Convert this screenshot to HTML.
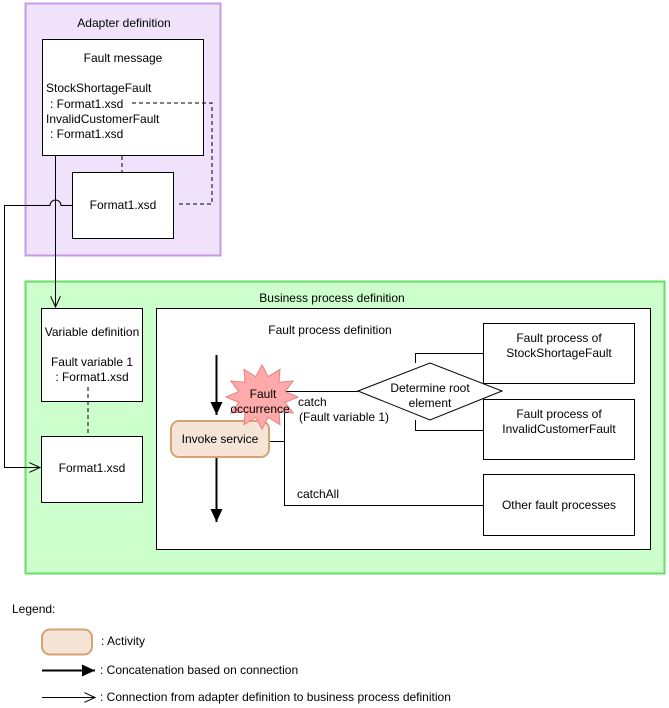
<!DOCTYPE html>
<html><head><meta charset="utf-8"><style>
body{margin:0;background:#fff;}
svg{display:block;font-family:"Liberation Sans",Arial,sans-serif;font-size:12px;}
</style></head><body>
<svg width="669" height="708" viewBox="0 0 669 708">
<defs>
<marker id="open" markerWidth="12" markerHeight="10" refX="11" refY="5" orient="auto" markerUnits="userSpaceOnUse"><path d="M0,0 L11,5 L0,10" fill="none" stroke="#000" stroke-width="1"/></marker>
<marker id="solid" markerWidth="14" markerHeight="12" refX="13" refY="6" orient="auto" markerUnits="userSpaceOnUse"><path d="M0,0 L13,6 L0,12 Z" fill="#000"/></marker>
</defs>
<!-- Adapter -->
<rect x="25.5" y="3.5" width="195" height="252" fill="#f0e2fb" stroke="#c39be6" stroke-width="2"/>
<text x="124" y="27" text-anchor="middle">Adapter definition</text>
<rect x="42.5" y="39.5" width="161" height="116" fill="#fff" stroke="#000"/>
<text x="123" y="62" text-anchor="middle">Fault message</text>
<text x="46" y="92">StockShortageFault</text>
<text x="50" y="108"> : Format1.xsd</text>
<text x="46" y="123">InvalidCustomerFault</text>
<text x="50" y="138"> : Format1.xsd</text>
<rect x="72.5" y="172.5" width="101" height="66" fill="#fff" stroke="#000"/>
<text x="123" y="209" text-anchor="middle">Format1.xsd</text>
<path d="M132,103 H212 V204 H176" fill="none" stroke="#000" stroke-dasharray="4,3"/>
<path d="M122,156 V172" fill="none" stroke="#000" stroke-dasharray="4,3"/>
<!-- Green -->
<rect x="25.5" y="281.5" width="639" height="292" fill="#ccffcc" stroke="#66dd66" stroke-width="2"/>
<text x="332" y="302" text-anchor="middle">Business process definition</text>
<rect x="41.5" y="308.5" width="101" height="93" fill="#fff" stroke="#000"/>
<text x="92" y="336" text-anchor="middle">Variable definition</text>
<text x="92" y="366" text-anchor="middle">Fault variable 1</text>
<text x="92" y="381" text-anchor="middle"> : Format1.xsd</text>
<rect x="41.5" y="436.5" width="101" height="66" fill="#fff" stroke="#000"/>
<text x="92" y="472" text-anchor="middle">Format1.xsd</text>
<path d="M88,387 V436" fill="none" stroke="#000" stroke-dasharray="4,3"/>
<!-- connectors -->
<path d="M55.5,156 V307" fill="none" stroke="#000" marker-end="url(#open)"/>
<path d="M72,205.5 H61 A5.5,5.5 0 0 0 50,205.5 H4.5 V467.5 H40" fill="none" stroke="#000" marker-end="url(#open)"/>
<!-- fault process -->
<rect x="156.5" y="308.5" width="494" height="241" fill="#fff" stroke="#000"/>
<text x="330" y="334" text-anchor="middle">Fault process definition</text>
<rect x="483.5" y="323.5" width="151" height="60" fill="#fff" stroke="#000"/>
<text x="559" y="342" text-anchor="middle">Fault process of</text>
<text x="559" y="357" text-anchor="middle">StockShortageFault</text>
<rect x="483.5" y="399.5" width="151" height="60" fill="#fff" stroke="#000"/>
<text x="559" y="418" text-anchor="middle">Fault process of</text>
<text x="559" y="433" text-anchor="middle">InvalidCustomerFault</text>
<rect x="483.5" y="474.5" width="151" height="61" fill="#fff" stroke="#000"/>
<text x="559" y="509" text-anchor="middle">Other fault processes</text>
<path d="M415.5,363 V353.5 H483 M415.5,420 V430.5 H483" fill="none" stroke="#000"/>
<polygon points="358,391 430,363 502,391 430,420" fill="#fff" stroke="#000"/>
<text x="430" y="392" text-anchor="middle">Determine root</text>
<text x="430" y="407" text-anchor="middle">element</text>
<path d="M284.5,391.5 H358 M270,441.5 H284.5 M284.5,391 V505.5 H483" fill="none" stroke="#000"/>
<text x="298" y="406">catch</text>
<text x="299" y="421">(Fault variable 1)</text>
<text x="297" y="498">catchAll</text>
<path d="M216.5,355 V415" stroke="#000" stroke-width="2" marker-end="url(#solid)"/>
<path d="M216.5,457 V522" stroke="#000" stroke-width="2" marker-end="url(#solid)"/>
<rect x="171" y="421" width="98" height="36" rx="8" fill="#f6e5d6" stroke="#d4a373" stroke-width="2"/>
<text x="220" y="443" text-anchor="middle">Invoke service</text>
<polygon points="298,397 285.2,402.4 293.2,413 279,411.8 280,424.7 268.2,417.3 262,429 255.8,417.3 244,424.7 245,411.8 230.8,413 238.8,402.4 226,397 238.8,391.6 230.8,381 245,382.2 244,369.3 255.8,376.7 262,365 268.2,376.7 280,369.3 279,382.2 293.2,381 285.2,391.6" fill="#ffaaaa" stroke="#e88080"/>
<text x="263" y="398" text-anchor="middle">Fault</text>
<text x="260" y="413" text-anchor="middle">occurrence</text>
<!-- legend -->
<text x="12" y="613">Legend:</text>
<rect x="42" y="629.5" width="50" height="25" rx="8" fill="#f6e5d6" stroke="#d4a373" stroke-width="2"/>
<text x="101" y="645">: Activity</text>
<path d="M42,670.5 H95" stroke="#000" stroke-width="2" marker-end="url(#solid)"/>
<text x="100" y="674">: Concatenation based on connection</text>
<path d="M42,697.5 H95" stroke="#000" marker-end="url(#open)"/>
<text x="100" y="701">: Connection from adapter definition to business process definition</text>
</svg>
</body></html>
